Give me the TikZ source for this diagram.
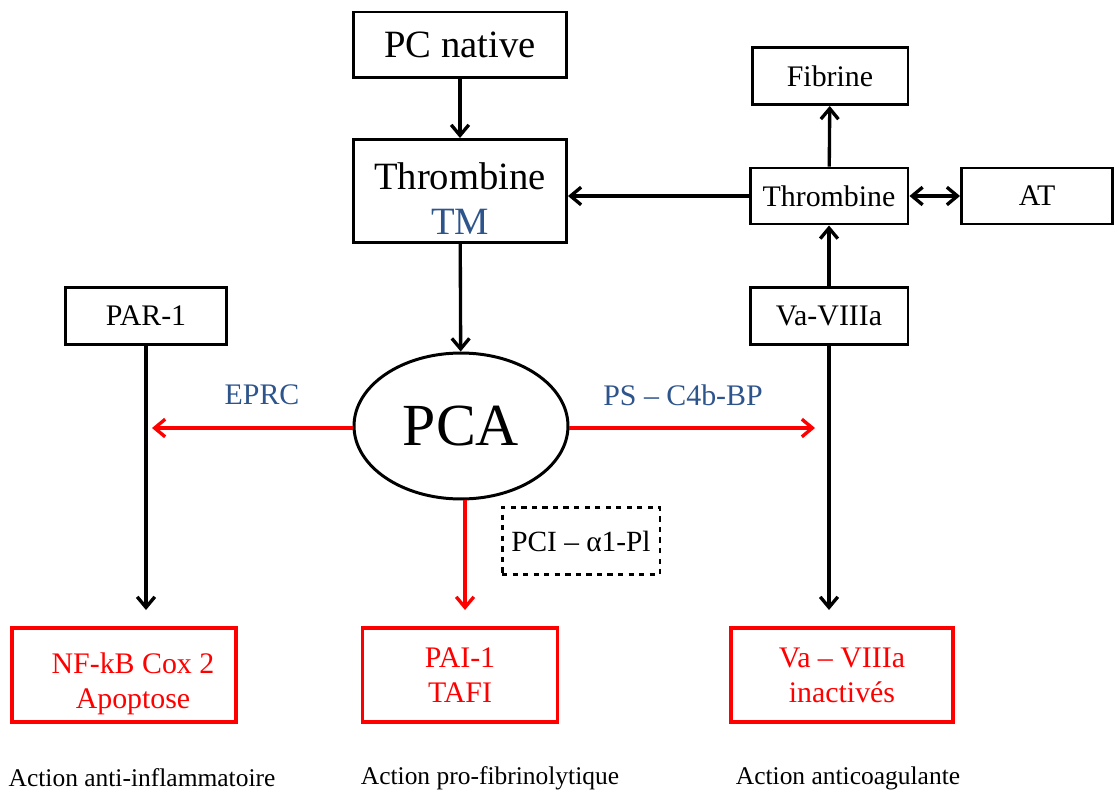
\documentclass[tikz,border=0pt]{standalone}
\usepackage{fontspec}
\setmainfont{Liberation Serif}
\usepackage{tikz}
\usetikzlibrary{shapes.geometric,arrows,arrows.meta,calc,positioning}
\definecolor{tmblue}{RGB}{46,84,140}
\definecolor{pcared}{RGB}{255,0,0}

\begin{document}
\begin{tikzpicture}[x=0.02cm, y=-0.02cm, >={Straight Barb[length=6pt,width=10pt]}, line width=1.8pt]
   \useasboundingbox (0,0) rectangle (1115,794);
   \begin{scope}[every node/.style={rectangle,draw=black,line width=1.7pt,align=center,inner sep=0pt}]
    \node (pcn) [minimum width=4.26cm, minimum height=1.32cm, font=\fontsize{22}{26}\selectfont] at (460,45) {PC native};
    \node (thr) [minimum width=4.26cm, minimum height=2.06cm, font=\fontsize{22}{26}\selectfont] at (460,191) {\rule{0pt}{24pt}Thrombine\\ \textcolor{tmblue}{TM}};
    \node (fib) [minimum width=3.12cm, minimum height=1.14cm, font=\fontsize{17}{20}\selectfont] at (830,76) {Fibrine};
    \node (thb) [minimum width=3.16cm, minimum height=1.12cm, font=\fontsize{17}{20}\selectfont] at (829,196) {Thrombine};
    \node (at) [minimum width=3.02cm, minimum height=1.12cm, font=\fontsize{17}{20}\selectfont] at (1037,196) {AT};
    \node (par) [minimum width=3.24cm, minimum height=1.14cm, font=\fontsize{17}{20}\selectfont] at (146,316) {PAR-1};
    \node (va) [minimum width=3.16cm, minimum height=1.14cm, font=\fontsize{17}{20}\selectfont] at (829,316) {Va-VIIIa};
    \node (pci) [dashed, minimum width=3.16cm, minimum height=1.34cm, font=\fontsize{16.7}{20}\selectfont] at (581,541) {PCI – α1-Pl};
   \end{scope}
   \node (pca) [ellipse, draw=black, line width=1.7pt, minimum width=4.28cm, minimum height=2.92cm, inner sep=0pt, font=\fontsize{34}{40}\selectfont] at (461,426) {PCA};
   \begin{scope}[every node/.style={rectangle,draw=pcared,text=pcared,line width=1.8pt,align=center,inner sep=0pt,minimum height=1.88cm,font=\fontsize{17}{20}\selectfont}]
    \node (nfk) [minimum width=4.48cm] at (124,675) {\rule{0pt}{22pt}\hspace*{0.36cm}NF-kB Cox 2\\ \hspace*{0.36cm}Apoptose};
    \node (pai) [minimum width=3.9cm] at (460,675) {PAI-1\\ TAFI};
    \node (vai) [minimum width=4.44cm] at (842,675) {Va – VIIIa\\ inactivés};
   \end{scope}
   \begin{scope}[every node/.style={font=\fontsize{14.5}{17}\selectfont}]
    \node (lnfk) at (142,778) {Action anti-inflammatoire};
    \node (lpai) at (490,778) {Action pro-fibrinolytique};
    \node (lvai) at (848,778) {Action anticoagulante};
   \end{scope}
   \begin{scope}[every node/.style={text=tmblue,font=\fontsize{17}{20}\selectfont}]
    \node (eprc) at (262,395) {EPRC};
    \node (psc) at (683,395) {PS – C4b-BP};
   \end{scope}
   \coordinate (parend) at (146,610);
   \coordinate (paiend) at (465,610);
   \coordinate (vaend) at (829,610);
   \coordinate (eprcend) at (152,428);
   \coordinate (psend) at (815,428);
   \begin{scope}[->,line width=1.9pt]
    \draw (pcn) -- (thr);
    \draw (thr) -- (pca);
    \draw (thb.west) -- (thb.west -| thr.east);
    \draw (thb) -- (fib);
    \draw (va) -- (thb);
    \draw [<->] (thb) -- (at);
    \draw (par) -- (parend);
    \draw (va) -- (vaend);
   \end{scope}
   \begin{scope}[->,draw=pcared,line width=1.9pt]
    \draw (pca.west |- eprcend) -- (eprcend);
    \draw (pca.east |- psend) -- (psend);
    \draw (pca.south -| paiend) -- (paiend);
   \end{scope}
\end{tikzpicture}
\end{document}
